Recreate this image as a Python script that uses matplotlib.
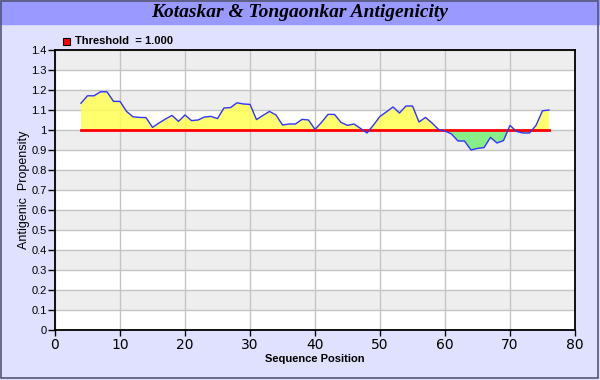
#!/usr/bin/env python3
"""Kotaskar & Tongaonkar antigenicity profile."""

import numpy as np
import matplotlib.pyplot as plt
from matplotlib.patches import Rectangle

# sequence positions and antigenic propensity values
positions = list(range(4, 77))
propensity = [
    1.134, 1.171, 1.171, 1.191, 1.191, 1.143, 1.143, 1.093, 1.066, 1.063,
    1.062, 1.013, 1.035, 1.055, 1.073, 1.043, 1.075, 1.047, 1.050, 1.065,
    1.068, 1.057, 1.110, 1.112, 1.136, 1.130, 1.128, 1.052, 1.073, 1.093,
    1.075, 1.025, 1.030, 1.030, 1.053, 1.050, 1.003, 1.038, 1.078, 1.078,
    1.038, 1.023, 1.030, 1.008, 0.985, 1.025, 1.068, 1.091, 1.115, 1.085,
    1.120, 1.120, 1.040, 1.063, 1.035, 1.003, 0.995, 0.980, 0.945, 0.945,
    0.900, 0.908, 0.912, 0.963, 0.935, 0.947, 1.023, 0.993, 0.985, 0.985,
    1.023, 1.096, 1.100,
]
threshold = 1.0

x_ticks = [0, 10, 20, 30, 40, 50, 60, 70, 80]
y_ticks = [0, 0.1, 0.2, 0.3, 0.4, 0.5, 0.6, 0.7, 0.8, 0.9, 1.0,
           1.1, 1.2, 1.3, 1.4]
y_labels = ["0", "0.1", "0.2", "0.3", "0.4", "0.5", "0.6", "0.7", "0.8",
            "0.9", "1", "1.1", "1.2", "1.3", "1.4"]

BG = "#e0e0ff"
fig = plt.figure(figsize=(6, 3.8), dpi=100, facecolor=BG)

# title bar + frame
fig.patches.append(Rectangle((0, 1 - 24 / 380), 1, 24 / 380,
                             transform=fig.transFigure, color="#9999ff",
                             zorder=0))
fig.patches.append(Rectangle((0.002, 0.004), 0.995, 0.993,
                             transform=fig.transFigure, fill=False,
                             edgecolor="#555577", lw=1.2, zorder=1))
fig.text(0.5, 1 - 12.5 / 380, "Kotaskar & Tongaonkar Antigenicity",
         ha="center", va="center", fontsize=14, fontweight="bold",
         fontstyle="italic", family="Liberation Serif")

ax = fig.add_axes([55 / 600, 50 / 380, 520 / 600, 280 / 380])
ax.set_facecolor("white")

# alternating bands
for k in range(1, 14, 2):
    ax.axhspan(k / 10, (k + 1) / 10, color="#eeeeee", zorder=0, lw=0)
for y in y_ticks:
    ax.axhline(y, color="#c4c4c4", lw=1, zorder=1)
for x in x_ticks:
    ax.axvline(x, color="#c4c4c4", lw=1, zorder=1)

xs = np.array(positions)
ys = np.array(propensity)
ax.fill_between(xs, ys, threshold, where=ys >= threshold, interpolate=True,
                color="#ffff55", alpha=0.85, lw=0, zorder=2)
ax.fill_between(xs, ys, threshold, where=ys <= threshold, interpolate=True,
                color="#88ee88", lw=0, zorder=2)
ax.plot([positions[0], positions[-1]], [threshold, threshold],
        color="#ff0000", lw=2, zorder=3)
ax.plot(xs, ys, color="#3333ff", lw=1, zorder=4)

ax.set_xlim(0, 80)
ax.set_ylim(0, 1.4)
ax.set_xticks(x_ticks)
ax.set_xticklabels([str(v) for v in x_ticks], fontsize=10,
                   family="DejaVu Sans")
ax.set_yticks(y_ticks)
ax.set_yticklabels(y_labels, fontsize=8, family="Liberation Sans")
ax.tick_params(axis="y", length=5, width=1, pad=1, colors="black")
ax.tick_params(axis="x", length=4, width=1, pad=2, colors="black")
for s in ax.spines.values():
    s.set_linewidth(1.3)
    s.set_zorder(5)

ax.set_xlabel("Sequence Position", fontsize=8, fontweight="bold",
              family="Liberation Sans", labelpad=1)
ax.set_ylabel("Antigenic  Propensity", fontsize=9, family="Liberation Sans",
              labelpad=1)

# legend entry
fig.patches.append(Rectangle((63 / 600, 1 - 45 / 380), 7 / 600, 7 / 380,
                             transform=fig.transFigure, facecolor="#ff0000",
                             edgecolor="black", lw=0.8, zorder=3))
fig.text(75 / 600, 1 - 41.5 / 380, "Threshold  = 1.000", ha="left",
         va="center", fontsize=8, fontweight="bold", family="Liberation Sans")

fig.savefig("out.png", dpi=100, facecolor=BG)
